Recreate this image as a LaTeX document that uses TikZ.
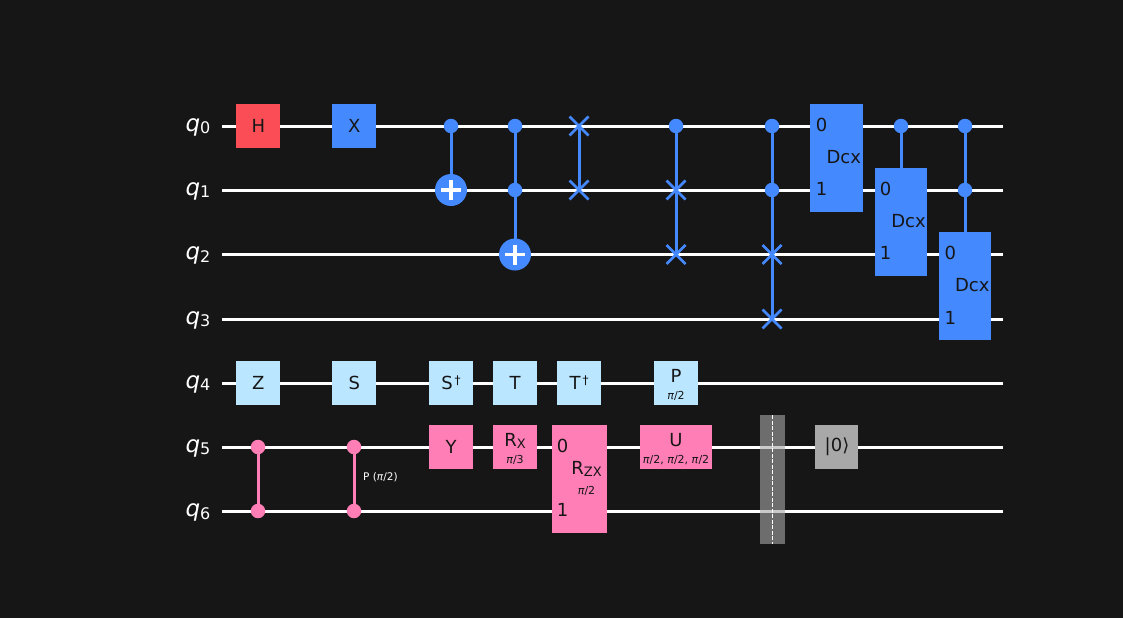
\documentclass[tikz,border=0pt]{standalone}
\usepackage{fontspec}
\setmainfont{DejaVu Sans}
\usetikzlibrary{shapes.misc}
\pgfdeclarelayer{bg}\pgfdeclarelayer{mid}
\pgfsetlayers{bg,mid,main}
\definecolor{pagebg}{HTML}{161616}
\definecolor{qblue}{HTML}{4589FF}
\definecolor{qpink}{HTML}{FF7EB6}
\definecolor{qlight}{HTML}{BAE6FF}
\definecolor{qred}{HTML}{FA4D56}
\definecolor{qgray}{HTML}{A8A8A8}
\definecolor{ink}{HTML}{161616}
\newcommand{\fsz}[1]{\fontsize{#1}{#1}\selectfont}
\newcommand{\sub}[1]{\raisebox{-2pt}{\fsz{13}#1}}
\newcommand{\qsub}[1]{\textit{q}\raisebox{-2.5pt}{\fsz{16}#1}}
\newcommand{\dg}{\raisebox{5pt}{\fsz{12}\,†}}
\tikzset{
  x=1pt,y=-1pt,
  wire/.style={draw=white,line width=3pt},
  gate/.style={rectangle,inner sep=0pt,outer sep=0pt,minimum width=44pt,minimum height=44pt,text=ink,font=\fsz{18}},
  bluegate/.style={gate,fill=qblue},
  pinkgate/.style={gate,fill=qpink},
  lightgate/.style={gate,fill=qlight},
  redgate/.style={gate,fill=qred},
  graygate/.style={gate,fill=qgray},
  txt/.style={anchor=base,inner sep=0pt,outer sep=0pt,text=ink,font=\fsz{18}},
  small/.style={txt,font=\fsz{11}},
  qlabel/.style={anchor=base east,inner sep=0pt,text=white,font=\fsz{23}},
  dot/.style={circle,inner sep=0pt,outer sep=0pt,minimum size=14.5pt,fill=#1},
  target/.style={circle,inner sep=0pt,outer sep=0pt,minimum size=32pt,fill=qblue},
  swapx/.style={cross out,draw=qblue,line width=2.6pt,inner sep=0pt,outer sep=0pt,minimum size=19pt},
  link/.style={draw=#1,line width=3pt},
  plusbar/.style={draw=white,line width=3.2pt},
}
\begin{document}
\begin{tikzpicture}
\useasboundingbox (0,0) rectangle (1123,618);
\begin{pgfonlayer}{bg}
  \fill[pagebg] (0,0) rectangle (1123,618);
\end{pgfonlayer}
% qubit labels
\node[qlabel] (l0) at (210.5,131) {\qsub{0}};
\node[qlabel] (l1) at (210.5,195.3) {\qsub{1}};
\node[qlabel] (l2) at (210.5,259.5) {\qsub{2}};
\node[qlabel] (l3) at (210.5,324) {\qsub{3}};
\node[qlabel] (l4) at (210.5,388) {\qsub{4}};
\node[qlabel] (l5) at (210.5,452.3) {\qsub{5}};
\node[qlabel] (l6) at (210.5,516.5) {\qsub{6}};
% wire ends
\coordinate (a0) at (222,126.5); \coordinate (b0) at (1003,126.5);
\coordinate (a1) at (222,190.5); \coordinate (b1) at (1003,190.5);
\coordinate (a2) at (222,254.5); \coordinate (b2) at (1003,254.5);
\coordinate (a3) at (222,319.4); \coordinate (b3) at (1003,319.4);
\coordinate (a4) at (222,383.4); \coordinate (b4) at (1003,383.4);
\coordinate (a5) at (222,447.5); \coordinate (b5) at (1003,447.5);
\coordinate (a6) at (222,511.5); \coordinate (b6) at (1003,511.5);
\begin{pgfonlayer}{bg}
  \foreach \i in {0,...,6} {\draw[wire] (a\i) -- (b\i);}
\end{pgfonlayer}
% single gates
\node[redgate] (h) at (258,126) {\hspace{.6pt}H};
\node[bluegate] (x) at (354,126) {\hspace{.6pt}X};
\node[lightgate] (z) at (258,383) {\hspace{.6pt}Z};
\node[lightgate] (s) at (354,383) {\hspace{.6pt}S};
\node[lightgate] (sdg) at (451,383) {S\dg};
\node[lightgate] (t) at (515,383) {T};
\node[lightgate] (tdg) at (579,383) {T\dg};
\node[lightgate] (p) at (676,383) {};
\node[txt] (ptxt) at (676,382) {P};
\node[small] (pval) at (676,399) {\textit{π}/2};
\node[pinkgate] (y) at (451,447) {Y};
\node[pinkgate] (rx) at (515,447) {};
\node[txt] (rxtxt) at (515,446.7) {R\sub{X}};
\node[small] (rxval) at (515,463) {\textit{π}/3};
\node[pinkgate,minimum width=55pt,minimum height=108pt] (rzx) at (579.5,479) {};
\node[txt] (rzx0) at (562.7,452) {0};
\node[txt] (rzx1) at (562.7,516) {1};
\node[txt] (rzxtxt) at (586.5,474.7) {R\sub{ZX}};
\node[small] (rzxval) at (586.5,494) {\textit{π}/2};
\node[pinkgate,minimum width=72pt] (u) at (676,447) {};
\node[txt] (utxt) at (676,446.7) {U};
\node[small] (uval) at (676,463) {\textit{π}/2, \textit{π}/2, \textit{π}/2};
\node[graygate,minimum width=43pt] (reset) at (836.5,447) {\hspace{1pt}|0⟩};
% Dcx
\node[bluegate,minimum width=53pt,minimum height=108pt] (d1) at (836.5,158) {};
\node[txt] (d1a) at (821.5,131) {0};
\node[txt] (d1b) at (821.5,195) {1};
\node[txt] (d1t) at (843.7,163.3) {Dcx};
\node[bluegate,minimum width=52pt,minimum height=108pt] (d2) at (901,222) {};
\node[txt] (d2a) at (885.7,195) {0};
\node[txt] (d2b) at (885.7,259.5) {1};
\node[txt] (d2t) at (908.5,227.3) {Dcx};
\node[bluegate,minimum width=52pt,minimum height=108pt] (d3) at (965,286) {};
\node[txt] (d3a) at (950.3,259.5) {0};
\node[txt] (d3b) at (950.3,324) {1};
\node[txt] (d3t) at (972.3,291) {Dcx};
% controls and targets
\node[dot=qblue] (c1) at (451,126) {};
\node[target] (t1) at (451,190) {};
\node[dot=qblue] (c2a) at (515,126) {};
\node[dot=qblue] (c2b) at (515,190) {};
\node[target] (t2) at (515,254.5) {};
\node[swapx] (s1a) at (579,126) {};
\node[swapx] (s1b) at (579,190) {};
\node[dot=qblue] (c3) at (676,126) {};
\node[swapx] (s2a) at (676,190) {};
\node[swapx] (s2b) at (676,254.5) {};
\node[dot=qblue] (c4a) at (772,126) {};
\node[dot=qblue] (c4b) at (772,190) {};
\node[swapx] (s3a) at (772,254.5) {};
\node[swapx] (s3b) at (772,319) {};
\node[dot=qblue] (c5) at (901,126) {};
\node[dot=qblue] (c6a) at (965,126) {};
\node[dot=qblue] (c6b) at (965,190) {};
\node[dot=qpink] (cz1) at (258,447) {};
\node[dot=qpink] (cz2) at (258,511) {};
\node[dot=qpink] (cp1) at (354,447) {};
\node[dot=qpink] (cp2) at (354,511) {};
\node[anchor=base west,inner sep=0pt,text=white,font=\fsz{10.5}] (cplabel) at (363,480.5) {P (\textit{π}/2)};
\begin{pgfonlayer}{mid}
  \draw[link=qblue] (c1.center) -- (t1.center);
  \draw[link=qblue] (c2a.center) -- (t2.center);
  \draw[link=qblue] (s1a.center) -- (s1b.center);
  \draw[link=qblue] (c3.center) -- (s2b.center);
  \draw[link=qblue] (c4a.center) -- (s3b.center);
  \draw[link=qblue] (c5.center) -- (d2.north);
  \draw[link=qblue] (c6a.center) -- (d3.north);
  \draw[link=qpink] (cz1.center) -- (cz2.center);
  \draw[link=qpink] (cp1.center) -- (cp2.center);
\end{pgfonlayer}
% plus marks
\foreach \n in {t1,t2} {
  \draw[plusbar] (\n.center) +(-10,0) -- +(10,0);
  \draw[plusbar] (\n.center) +(0,-10) -- +(0,10);
}
% barrier
\node[rectangle,inner sep=0pt,outer sep=0pt,minimum width=25pt,minimum height=129pt,fill=qgray,fill opacity=.6] (bar) at (772.5,479.5) {};
\draw[white,line width=1.5pt,dash pattern=on 4pt off 1.5pt] (bar.north) -- (bar.south);
\end{tikzpicture}
\end{document}
